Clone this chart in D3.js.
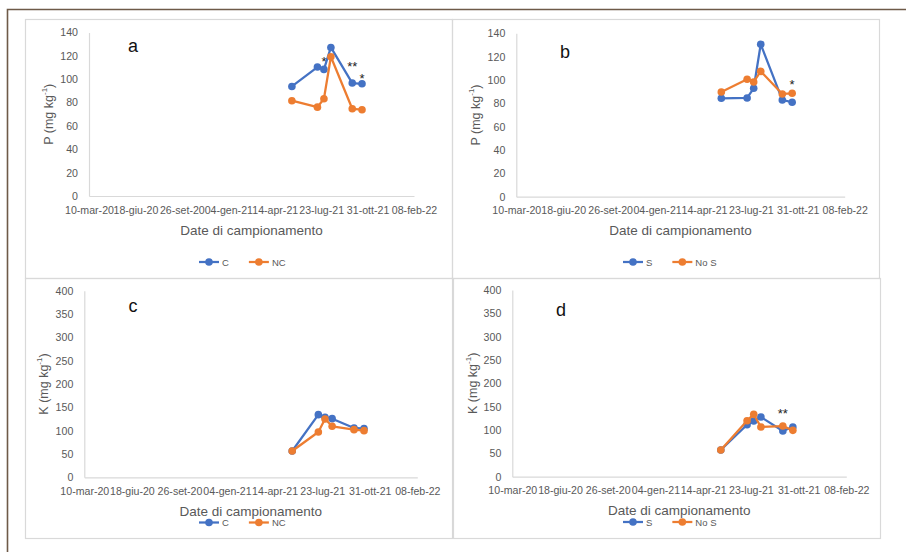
<!DOCTYPE html>
<html>
<head>
<meta charset="utf-8">
<script src="https://cdn.jsdelivr.net/npm/d3@7/dist/d3.min.js"></script>
<style>
  html, body { margin: 0; padding: 0; background: #fff; }
  svg { display: block; }
</style>
</head>
<body>
<script>
'use strict';

// ---- data ----
const sampleDates = ['2021-05-21', '2021-07-15', '2021-07-29', '2021-08-13', '2021-09-28', '2021-10-19'];
const xTickDates = ['2020-03-10', '2020-06-18', '2020-09-26', '2021-01-04', '2021-04-14', '2021-07-23', '2021-10-31', '2022-02-08'];
const xTickLabels = ['10-mar-20', '18-giu-20', '26-set-20', '04-gen-21', '14-apr-21', '23-lug-21', '31-ott-21', '08-feb-22'];
const pTicks = [0, 20, 40, 60, 80, 100, 120, 140];
const kTicks = [0, 50, 100, 150, 200, 250, 300, 350, 400];

const pC   = [93.8, 110.4, 108.4, 127.2, 96.7, 96.1];
const pNC  = [81.6, 76.1, 83.3, 119.2, 74.7, 73.9];
const pS   = [84.3, 84.6, 92.9, 130.6, 82.9, 80.9];
const pNoS = [89.7, 100.6, 98.3, 107.4, 88.0, 88.6];
const kC   = [56.4, 134.3, 128.6, 125.7, 105.7, 104.3];
const kNC  = [56.4, 97.1, 125.0, 109.3, 102.1, 100.0];
const kS   = [57.1, 111.4, 119.3, 127.9, 97.9, 106.4];
const kNoS = [57.1, 120.0, 133.6, 106.4, 108.6, 99.3];

// significance marks: [sample index, value, text]
const starsA = [[2, 117.5, '*'], [4, 113.5, '**'], [5, 103.5, '*']];
const starsB = [[5, 99, '*']];
const starsC = [];
const starsD = [[4, 141, '**']];

const BLUE = '#4472C4', ORANGE = '#ED7D31', TXT = '#595959', AX = '#d9d9d9';
const FONT = '"Liberation Sans", Arial, sans-serif';

const W = 906, H = 552;
const svg = d3.select('body').append('svg')
  .attr('width', W).attr('height', H).attr('viewBox', `0 0 ${W} ${H}`);
svg.append('rect').attr('width', W).attr('height', H).attr('fill', '#fff');

const parse = d3.utcParse('%Y-%m-%d');

const panels = [
  { frame: [25, 19, 452, 278], plot: [89, 32.5, 414, 196], yMax: 140, ticks: pTicks, yl: 'P', letter: 'a', lp: [133, 46],
    series: [['C', pC, BLUE], ['NC', pNC, ORANGE]], stars: starsA, titleY: 230, legY: 262, legX: 209, ytX: 49 },
  { frame: [452, 19, 879, 278], plot: [516.3, 33.3, 844.7, 196.7], yMax: 140, ticks: pTicks, yl: 'P', letter: 'b', lp: [565, 52],
    series: [['S', pS, BLUE], ['No S', pNoS, ORANGE]], stars: starsB, titleY: 230, legY: 262, legX: 633, ytX: 476 },
  { frame: [25, 278, 452, 538], plot: [84.3, 290.7, 417.3, 477.3], yMax: 400, ticks: kTicks, yl: 'K', letter: 'c', lp: [133, 306],
    series: [['C', kC, BLUE], ['NC', kNC, ORANGE]], stars: starsC, titleY: 511.5, legY: 522.5, legX: 209, ytX: 44 },
  { frame: [453, 278, 880, 538], plot: [512.3, 290, 846.3, 476.7], yMax: 400, ticks: kTicks, yl: 'K', letter: 'd', lp: [561, 310],
    series: [['S', kS, BLUE], ['No S', kNoS, ORANGE]], stars: starsD, titleY: 510.5, legY: 522, legX: 633, ytX: 473 }
];

function txt(g, x, y, s, size, anchor, fill) {
  return g.append('text').attr('x', x).attr('y', y)
    .attr('text-anchor', anchor || 'middle')
    .attr('dominant-baseline', 'central')
    .attr('font-family', FONT).attr('font-size', size)
    .attr('fill', fill || TXT).text(s);
}

panels.forEach(p => {
  const g = svg.append('g');
  const [fx0, fy0, fx1, fy1] = p.frame;
  g.append('rect').attr('x', fx0 + 0.5).attr('y', fy0 + 0.5)
    .attr('width', fx1 - fx0).attr('height', fy1 - fy0)
    .attr('fill', 'none').attr('stroke', AX).attr('stroke-width', 1.2);

  const [px0, py0, px1, py1] = p.plot;
  const x = d3.scaleUtc().domain([parse(xTickDates[0]), parse(xTickDates[xTickDates.length - 1])]).range([px0, px1]);
  const y = d3.scaleLinear().domain([0, p.yMax]).range([py1, py0]);

  // axes
  const xAxis = d3.axisBottom(x).tickValues(xTickDates.map(parse))
    .tickFormat((d, i) => xTickLabels[i]).tickSize(0).tickPadding(10);
  const xg = g.append('g').attr('transform', `translate(0,${py1})`).call(xAxis);
  xg.select('.domain').attr('stroke', AX).attr('stroke-width', 1.2);
  xg.selectAll('text').attr('font-family', FONT).attr('font-size', 10.6).attr('fill', TXT);

  const yAxis = d3.axisLeft(y).tickValues(p.ticks).tickSize(0).tickPadding(11);
  const yg = g.append('g').attr('transform', `translate(${px0},0)`).call(yAxis);
  yg.select('.domain').attr('stroke', AX).attr('stroke-width', 1.2);
  yg.selectAll('text').attr('font-family', FONT).attr('font-size', 10.6).attr('fill', TXT);

  // axis titles
  txt(g, (px0 + px1) / 2, p.titleY, 'Date di campionamento', 13.5);
  const yt = g.append('text')
    .attr('transform', `translate(${p.ytX},${(py0 + py1) / 2}) rotate(-90)`)
    .attr('text-anchor', 'middle').attr('dominant-baseline', 'central')
    .attr('font-family', FONT).attr('font-size', 12.5).attr('fill', TXT);
  yt.append('tspan').text(p.yl + ' (mg kg');
  yt.append('tspan').attr('font-size', 8).attr('dy', -5).text('-1');
  yt.append('tspan').attr('dy', 5).text(')');

  // panel letter
  txt(g, p.lp[0], p.lp[1], p.letter, 18, 'middle', '#111');

  // series
  const line = d3.line().x((d, i) => x(parse(sampleDates[i]))).y(d => y(d));
  p.series.forEach(([name, vals, col]) => {
    g.append('path').datum(vals).attr('d', line)
      .attr('fill', 'none').attr('stroke', col).attr('stroke-width', 2.25)
      .attr('stroke-linejoin', 'round');
    g.selectAll(null).data(vals).enter().append('circle')
      .attr('cx', (d, i) => x(parse(sampleDates[i]))).attr('cy', d => y(d))
      .attr('r', 3.8).attr('fill', col);
  });

  // significance stars
  p.stars.forEach(([i, v, s]) => {
    txt(g, x(parse(sampleDates[i])), y(v) + 3, s, 13, 'middle', '#222');
  });

  // legend
  let lx = p.legX;
  p.series.forEach(([name, vals, col]) => {
    g.append('line').attr('x1', lx - 10).attr('x2', lx + 10)
      .attr('y1', p.legY).attr('y2', p.legY).attr('stroke', col).attr('stroke-width', 2.25);
    g.append('circle').attr('cx', lx).attr('cy', p.legY).attr('r', 3.8).attr('fill', col);
    const t = txt(g, lx + 13, p.legY, name, 9.5, 'start');
    lx += 13 + t.node().getComputedTextLength() + 30;
  });
});

// outer brown border
svg.append('path').attr('d', `M7.5,${H} V9.5 H${W}`)
  .attr('fill', 'none').attr('stroke', '#6e5a48').attr('stroke-width', 1.6);
</script>
</body>
</html>
